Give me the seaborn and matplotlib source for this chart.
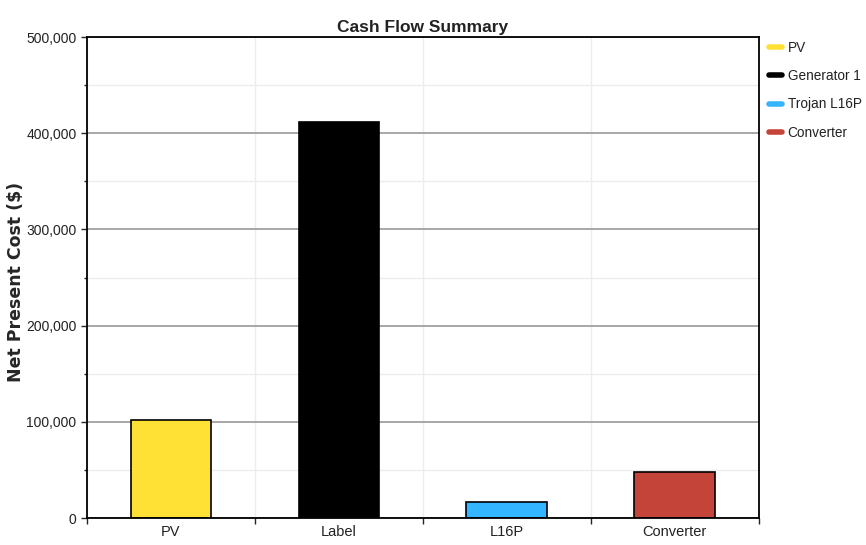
import numpy as np
import pandas as pd
import matplotlib
matplotlib.use("Agg")
import matplotlib.pyplot as plt
import seaborn as sns
from matplotlib.lines import Line2D
from matplotlib.ticker import FuncFormatter, MultipleLocator, FixedLocator

# data
categories = ["PV", "Label", "L16P", "Converter"]
legend_names = ["PV", "Generator 1", "Trojan L16P", "Converter"]
npc_values = [102000, 411500, 16700, 48200]
bar_colors = ["#FFE135", "#000000", "#33B5FF", "#C4443A"]

sns.set_style("white")
plt.rcParams['font.family'] = ['Liberation Sans', 'DejaVu Sans']

df = pd.DataFrame({"cat": categories, "name": legend_names, "npc": npc_values})

fig = plt.figure(figsize=(8.66, 5.45), dpi=100)
ax = fig.add_axes([0.1005, 0.0495, 0.7755, 0.8825])

sns.barplot(data=df, x="cat", y="npc", hue="name", hue_order=legend_names,
            palette=bar_colors, saturation=1, dodge=False, width=0.48,
            edgecolor="black", linewidth=1.2, legend=False, ax=ax)

ax.set_xlim(-0.5, 3.5)
ax.set_ylim(0, 500000)

# grid lines
ax.yaxis.set_major_locator(MultipleLocator(100000))
ax.yaxis.set_minor_locator(MultipleLocator(50000))
ax.xaxis.set_minor_locator(FixedLocator([-0.5, 0.5, 1.5, 2.5, 3.5]))
ax.grid(True, which="major", axis="y", color="#a0a0a0", linewidth=1.3)
ax.grid(True, which="minor", axis="y", color="#ececec", linewidth=1.0)
ax.grid(True, which="minor", axis="x", color="#ececec", linewidth=1.0)
ax.set_axisbelow(True)

ax.yaxis.set_major_formatter(FuncFormatter(lambda v, p: f"{int(v):,}"))
ax.tick_params(axis="y", which="major", length=4, width=1, labelsize=10,
               left=True, labelcolor="#222222")
ax.tick_params(axis="y", which="minor", length=2, width=1, left=True)
ax.tick_params(axis="x", which="major", length=0, labelsize=10.5, pad=5,
               labelcolor="#222222")
ax.tick_params(axis="x", which="minor", length=4, width=1, bottom=True)

for s in ax.spines.values():
    s.set_color("black")
    s.set_linewidth(1.3)

ax.set_xlabel("")
ax.set_ylabel("Net Present Cost ($)", fontsize=12.5, fontweight="bold",
              family=["DejaVu Sans"])
ax.yaxis.set_label_coords(-0.093, 0.49)
ax.set_title("Cash Flow Summary", fontsize=12.5, fontweight="bold", pad=4,
             color="#222222")

handles = [Line2D([0], [0], color=c, linewidth=4, solid_capstyle="round") for c in bar_colors]
fig.legend(handles, legend_names, loc="upper left", bbox_to_anchor=(0.882, 0.935),
           frameon=False, fontsize=9.8, handlelength=0.9, handletextpad=0.45,
           labelspacing=1.05, borderaxespad=0, labelcolor="#222222")

fig.savefig("out.png", dpi=100)
